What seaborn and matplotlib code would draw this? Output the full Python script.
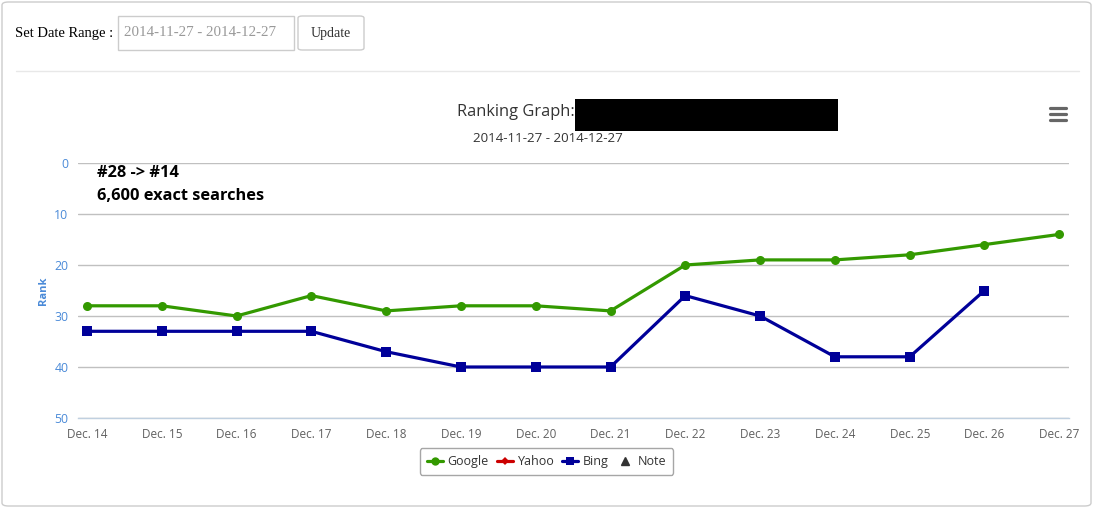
import pandas as pd
import numpy as np
import seaborn as sns
import matplotlib
matplotlib.use('Agg')
import matplotlib.pyplot as plt
from matplotlib.patches import FancyBboxPatch, Rectangle
from matplotlib.lines import Line2D

# chart data
days = ['Dec. 14', 'Dec. 15', 'Dec. 16', 'Dec. 17', 'Dec. 18', 'Dec. 19', 'Dec. 20',
        'Dec. 21', 'Dec. 22', 'Dec. 23', 'Dec. 24', 'Dec. 25', 'Dec. 26', 'Dec. 27']
google_rank = [28, 28, 30, 26, 29, 28, 28, 29, 20, 19, 19, 18, 16, 14]
bing_rank = [33, 33, 33, 33, 37, 40, 40, 40, 26, 30, 38, 38, 25, np.nan]
rank_ticks = [0, 10, 20, 30, 40, 50]

colors = {'Google': '#339900', 'Yahoo': '#cc0000', 'Bing': '#000099'}

sns.set_theme(style='white')
plt.rcParams['font.family'] = ['Open Sans', 'DejaVu Sans']

W, H = 1094, 509
fig = plt.figure(figsize=(W / 100, H / 100), dpi=100)


def fx(x):
    return x / W


def fy(y):
    return 1 - y / H


# plot area in pixels: x 78..1069, y 163..418
ax = fig.add_axes([fx(78), fy(418), fx(1069) - fx(78), fy(163) - fy(418)])

df = pd.DataFrame({
    'day': days * 2,
    'rank': google_rank + bing_rank,
    'engine': ['Google'] * len(days) + ['Bing'] * len(days),
})
df['pos'] = list(range(len(days))) * 2
df = df.dropna()

sns.lineplot(data=df, x='pos', y='rank', hue='engine', style='engine',
             palette=colors, markers={'Google': 'o', 'Bing': 's'}, dashes=False,
             linewidth=2.3, markersize=6.5, markeredgewidth=0, legend=False, ax=ax)

ax.set_xlim(-0.12, 13.13)
ax.set_ylim(50, 0)
ax.set_yticks(rank_ticks)
ax.set_xticks(range(len(days)))
ax.set_xticklabels(days)
ax.grid(axis='y', color='#c0c0c0', linewidth=1)
ax.grid(axis='x', visible=False)
for side in ['top', 'left', 'right']:
    ax.spines[side].set_visible(False)
ax.spines['bottom'].set_color('#c0d0e0')
ax.spines['bottom'].set_linewidth(1)
ax.tick_params(axis='x', colors='#c0d0e0', length=5, width=1, direction='out',
               labelcolor='#606060', labelsize=8.5, pad=2)
ax.tick_params(axis='y', length=0, labelcolor='#4a8ad8', labelsize=8.8, pad=7)
ax.set_xlabel('')
ax.set_ylabel('Rank', color='#4a8ad8', fontsize=8, fontweight='bold', labelpad=4)

# annotation in the plot
fig.text(fx(97), fy(173), '#28 -> #14', fontsize=11.8, fontweight='bold', va='center', color='black')
fig.text(fx(97), fy(196), '6,600 exact searches', fontsize=11.8, fontweight='bold', va='center', color='black')

# titles
fig.text(fx(457), fy(112), 'Ranking Graph:', fontsize=11.8, color='#333333', va='center')
fig.add_artist(Rectangle((fx(575), fy(131)), fx(838) - fx(575), fy(99) - fy(131),
                         transform=fig.transFigure, facecolor='black', edgecolor='none'))
fig.text(fx(548), fy(139), '2014-11-27 - 2014-12-27', fontsize=9.6, color='#333333',
         ha='center', va='center')

# menu icon
for yy in [108, 114, 120]:
    fig.add_artist(Line2D([fx(1050), fx(1066)], [fy(yy), fy(yy)], transform=fig.transFigure,
                          color='#666666', linewidth=2.3, solid_capstyle='round'))

# legend
handles = [
    Line2D([], [], color=colors['Google'], marker='o', markersize=6, linewidth=2.3, markeredgewidth=0),
    Line2D([], [], color=colors['Yahoo'], marker='D', markersize=4.5, linewidth=2.3, markeredgewidth=0),
    Line2D([], [], color=colors['Bing'], marker='s', markersize=6, linewidth=2.3, markeredgewidth=0),
    Line2D([], [], color='#333333', marker='^', markersize=6, linewidth=0),
]
leg = ax.legend(handles, ['Google', 'Yahoo', 'Bing', 'Note'], ncol=4, loc='center',
                bbox_to_anchor=(fx(546.5), fy(461.5)), bbox_transform=fig.transFigure,
                frameon=True, fancybox=True, fontsize=9, handlelength=1.3, handletextpad=0.4,
                columnspacing=0.6, borderpad=0.55, borderaxespad=0)
leg.get_frame().set_edgecolor('#909090')
leg.get_frame().set_linewidth(1)
for t in leg.get_texts():
    t.set_color('#333333')

# page controls above the chart
fig.add_artist(FancyBboxPatch((fx(2), fy(506)), fx(1091) - fx(2), fy(2) - fy(506),
                              boxstyle='round,pad=0,rounding_size=0.006', transform=fig.transFigure,
                              facecolor='none', edgecolor='#cccccc', linewidth=1))
fig.add_artist(Line2D([fx(16), fx(1079)], [fy(71), fy(71)], transform=fig.transFigure,
                      color='#e8e8e8', linewidth=1))
serif = ['Liberation Serif', 'DejaVu Serif']
fig.text(fx(15), fy(33), 'Set Date Range :', family=serif, fontsize=10.5, color='black', va='center')
fig.add_artist(Rectangle((fx(118), fy(50)), fx(294) - fx(118), fy(16) - fy(50),
                         transform=fig.transFigure, facecolor='white', edgecolor='#cccccc', linewidth=1))
fig.text(fx(124), fy(33), '2014-11-27 - 2014-12-27', family=serif, fontsize=10.8,
         color='#999999', va='center')
fig.add_artist(FancyBboxPatch((fx(298), fy(50)), fx(364) - fx(298), fy(16) - fy(50),
                              boxstyle='round,pad=0,rounding_size=0.004', transform=fig.transFigure,
                              facecolor='white', edgecolor='#cccccc', linewidth=1))
fig.text(fx(331), fy(33), 'Update', family=serif, fontsize=10, color='#333333',
         ha='center', va='center')

fig.savefig('out.png', dpi=100, facecolor='white')
